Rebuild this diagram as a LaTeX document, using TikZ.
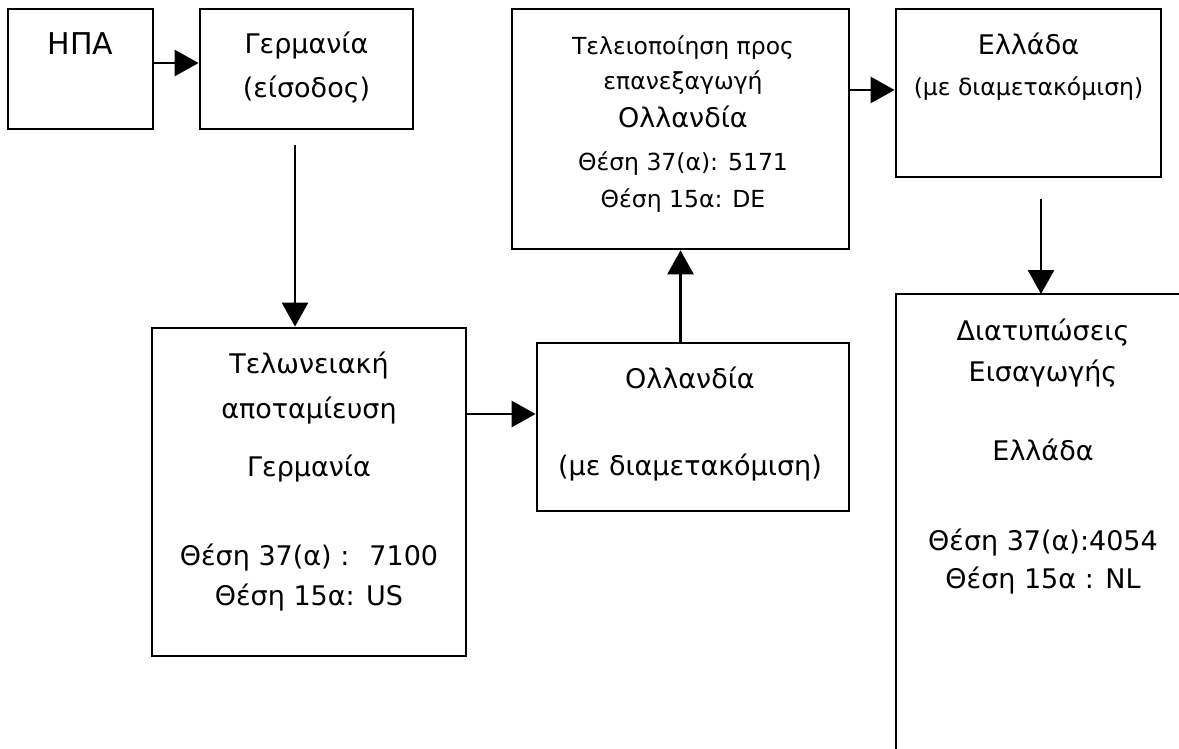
\documentclass[tikz,border=0pt]{standalone}
\usepackage{fontspec}
\setmainfont{DejaVu Sans}
\usetikzlibrary{arrows.meta}

\tikzset{
  box/.style={draw, line width=2.8pt, inner sep=0pt},
  lbl/.style={inner sep=0pt, anchor=mid, font=\fontsize{27}{31}\selectfont},
  lblsmall/.style={lbl, font=\fontsize{23.5}{27}\selectfont},
  arr/.style={line width=2.8pt, -{Triangle[length=24pt,width=26pt]}},
}

\begin{document}
\begin{tikzpicture}[x=1pt,y=-1pt]
    \useasboundingbox (0,0) rectangle (1179,749);

    % Boxes
    \node[box, minimum width=145pt, minimum height=120pt] (usa) at (80.5,69) {};
    \node[box, minimum width=213pt, minimum height=120pt] (gerIn) at (306.5,69) {};
    \node[box, minimum width=314pt, minimum height=328pt] (bond) at (309,492) {};
    \node[box, minimum width=312pt, minimum height=168pt] (nlTr) at (693,427) {};
    \node[box, minimum width=337pt, minimum height=240pt] (proc) at (680.5,129) {};
    \node[box, minimum width=265pt, minimum height=168pt] (grTr) at (1028.5,93) {};

    % Open box on the right
    \coordinate (impCorner) at (896,294);
    \coordinate (imp) at (1041,294);
    \draw[line width=2.8pt] (1179,294) -- (impCorner) -- (896,749);

    % Labels
    \node[lbl, font=\fontsize{30}{34}\selectfont] (usaT) at (80.5,52) {ΗΠΑ};
    \node[lbl] (gerInA) at (306.5,51) {Γερμανία};
    \node[lbl] (gerInB) at (306.5,95) {(είσοδος)};

    \node[lbl] (bondA) at (309,371) {Τελωνειακή};
    \node[lbl] (bondB) at (309,416) {αποταμίευση};
    \node[lbl] (bondC) at (309,474) {Γερμανία};
    \node[lbl] (bondD) at (309,563) {Θέση 37(α) :~ 7100};
    \node[lbl] (bondE) at (309,603) {Θέση 15α: US};

    \node[lbl] (nlTrA) at (690,386) {Ολλανδία};
    \node[lbl] (nlTrB) at (690,473) {(με διαμετακόμιση)};

    \node[lblsmall] (procA) at (683,52) {Τελειοποίηση προς};
    \node[lblsmall] (procB) at (683,87) {επανεξαγωγή};
    \node[lbl] (procC) at (683,125) {Ολλανδία};
    \node[lblsmall] (procD) at (683,168) {Θέση 37(α): 5171};
    \node[lblsmall] (procE) at (683,205) {Θέση 15α: DE};

    \node[lbl] (grTrA) at (1028.5,52) {Ελλάδα};
    \node[lblsmall] (grTrB) at (1028.5,93) {(με διαμετακόμιση)};

    \node[lbl] (impA) at (1043,338) {Διατυπώσεις};
    \node[lbl] (impB) at (1043,379) {Εισαγωγής};
    \node[lbl] (impC) at (1043,458) {Ελλάδα};
    \node[lbl] (impD) at (1043,548) {Θέση 37(α):4054};
    \node[lbl] (impE) at (1043,586) {Θέση 15α : NL};

    % Connectors
    \coordinate (gerOut) at (295,145);
    \coordinate (grOut) at (1041,199);
    \draw[arr] ([yshift=6pt]usa.east) -- ([yshift=6pt]gerIn.west);
    \draw[arr] (gerOut) -- (gerOut |- bond.north);
    \draw[arr] ([yshift=13pt]nlTr.west -| bond.east) -- ([yshift=13pt]nlTr.west);
    \draw[arr] (proc.south |- nlTr.north) -- (proc.south);
    \draw[arr] ([yshift=3pt]grTr.west -| proc.east) -- ([yshift=3pt]grTr.west);
    \draw[arr] (grOut) -- (imp);
\end{tikzpicture}
\end{document}
